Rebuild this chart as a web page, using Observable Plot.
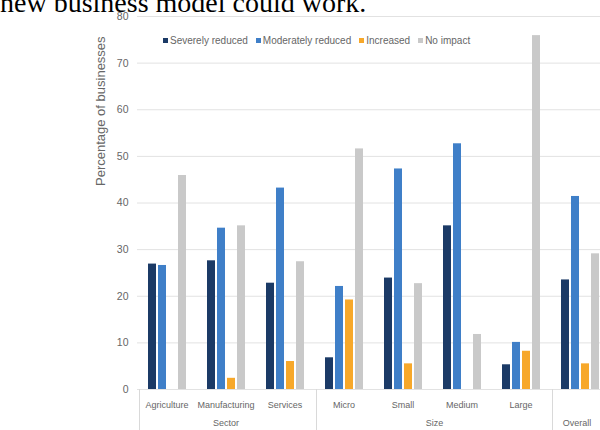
<!DOCTYPE html>
<html><head><meta charset="utf-8">
<script src="https://cdn.jsdelivr.net/npm/d3@7"></script>
<script src="https://cdn.jsdelivr.net/npm/@observablehq/plot@0.6"></script>
<style>
html,body{margin:0;padding:0;background:#fff;overflow:hidden;width:600px;height:430px}
#wrap{position:relative;width:600px;height:430px;overflow:hidden;background:#fff}
#chart{position:absolute;left:0;top:0;width:620px}
#chart svg{max-width:none !important}
#lead{position:absolute;left:0;top:-11px;font-family:"Liberation Serif","Times New Roman",serif;font-size:28px;line-height:28px;color:#000;white-space:nowrap}
#legend{position:absolute;left:163px;top:35px;width:420px}
.lg-swatches-wrap{min-height:0 !important;margin:0 !important;flex-wrap:nowrap !important}
.lg-swatch{margin-right:8px !important}
.lg-swatch > svg{margin-right:2px !important}
</style></head><body>
<div id="wrap"><div id="chart"></div><div id="legend"></div><div id="lead">new business model could work.</div></div>
<script>
const categories = ["Agriculture","Manufacturing","Services","Micro","Small","Medium","Large","Overall"];
const categoryLabels = ["Agriculture","Manufacturing","Services","Micro","Small","Medium","Large",""];
const series = ["Severely reduced","Moderately reduced","Increased","No impact"];
const colors = ["#1b3a66","#3f7fc8","#f7a82a","#c9c9c9"];
const severely   = [26.9, 27.6, 22.8,  6.8, 23.9, 35.1,  5.3, 23.5];
const moderately = [26.6, 34.6, 43.2, 22.1, 47.3, 52.7, 10.1, 41.4];
const increased  = [ 0,    2.4,  6.0, 19.2,  5.5,  0,    8.2,  5.5];
const noImpact   = [45.9, 35.1, 27.4, 51.6, 22.7, 11.8, 75.9, 29.1];
const yTicks = [0,10,20,30,40,50,60,70,80];
const groupNames = ["Sector","Size","Overall"];
const groupStarts = ["Agriculture","Micro","Overall"];
const yTitle = "Percentage of businesses";

const valueSets = [severely, moderately, increased, noImpact];
const rows = categories.flatMap((c, i) => series.map((s, j) => ({category: c, series: s, value: valueSets[j][i]})));

const font = "'Liberation Sans', Arial, sans-serif";
const plot = Plot.plot({
  width: 620, height: 440,
  marginTop: 16, marginBottom: 51, marginLeft: 136, marginRight: 10,
  style: {fontFamily: font, fontSize: "9px", color: "#666", background: "transparent", maxWidth: "none"},
  fx: {domain: categories, padding: 0, label: null, axis: "bottom", tickSize: 0, tickPadding: 12,
       tickFormat: d => categoryLabels[categories.indexOf(d)]},
  x: {domain: series, paddingInner: 0.23, paddingOuter: 0.8, axis: null},
  y: {domain: [0, 80], ticks: yTicks, label: null, axis: null},
  color: {domain: series, range: colors},
  marks: [
    Plot.gridY(yTicks, {stroke: "#e2e2e2", strokeOpacity: 1}),
    Plot.axisY(yTicks, {fx: () => categories[0], tickSize: 0, tickPadding: 9, fontSize: 10.5, label: null}),
    Plot.barY(rows, {fx: "category", x: "series", y: "value", fill: "series"}),
    Plot.ruleX(groupStarts, {fx: d => d, x: () => series[0], y1: () => 0, y2: () => -10, dx: -13, stroke: "#d9d9d9"}),
    Plot.text([groupNames[0]], {fx: () => categories[1], text: d => d, frameAnchor: "bottom", dy: 36}),
    Plot.text([groupNames[1]], {fx: () => categories[5], x: () => series[0], text: d => d, frameAnchor: "bottom", dy: 36, dx: -13}),
    Plot.text([groupNames[2]], {fx: () => categories[7], text: d => d, frameAnchor: "bottom", dy: 36, dx: -3}),
    Plot.text([yTitle], {fx: () => categories[0], text: d => d, frameAnchor: "left", rotate: -90, dx: -37, dy: -17, fontSize: 13})
  ]
});
document.getElementById("chart").appendChild(plot);
const leg = plot.legend("color", {className: "lg", swatchSize: 5, style: {fontFamily: font, fontSize: "10px", color: "#666"}});
document.getElementById("legend").appendChild(leg);
</script>
</body></html>
